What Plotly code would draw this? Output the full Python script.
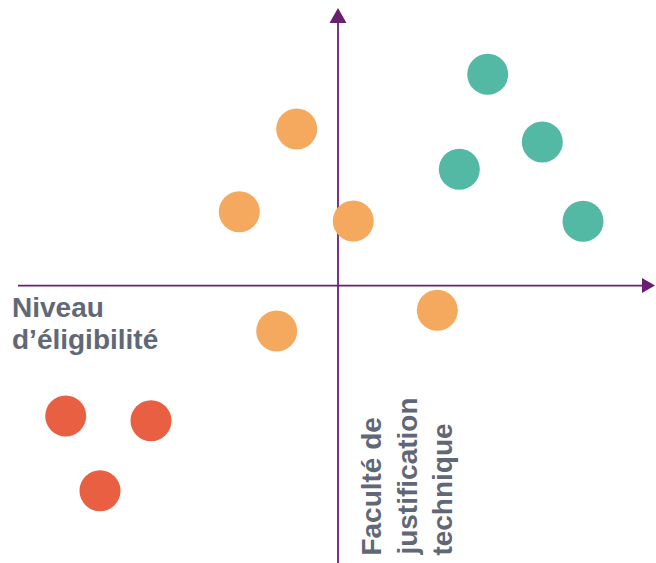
import plotly.graph_objects as go

# Data (arbitrary units, origin at the axes crossing)
teal_x = [14.97, 20.43, 12.13, 24.50]
teal_y = [21.13, 14.36, 11.63, 6.43]
orange_x = [-4.13, -9.87, 1.53, -6.13, 9.93]
orange_y = [15.66, 7.39, 6.46, -4.54, -2.47]
red_x = [-27.23, -18.70, -23.80]
red_y = [-13.04, -13.51, -20.51]

x_label_lines = ["Niveau", "d\u2019éligibilité"]
y_label_lines = ["Faculté de", "justification", "technique"]

TEAL = "#53B9A4"
ORANGE = "#F5A95E"
RED = "#E95F41"
PURPLE = "#6B1F73"
TEXT = "#606877"
FONT = "Liberation Sans, Arial, sans-serif"

XR = [-33.8, 31.8]
YR = [-27.74, 28.56]

fig = go.Figure()
for xs, ys, col in [(teal_x, teal_y, TEAL), (orange_x, orange_y, ORANGE), (red_x, red_y, RED)]:
    fig.add_trace(go.Scatter(x=xs, y=ys, mode="markers",
                             marker=dict(size=41, color=col, line=dict(width=0)),
                             hoverinfo="skip", showlegend=False))

# axes with arrows
fig.add_shape(type="line", x0=-32.0, x1=30.6, y0=0, y1=0,
              line=dict(color=PURPLE, width=1.8), layer="below")
fig.add_shape(type="path", path="M 30.4 -0.75 L 31.7 0 L 30.4 0.75 Z",
              fillcolor=PURPLE, line=dict(width=0))
fig.add_shape(type="line", x0=0, x1=0, y0=YR[0], y1=26.4,
              line=dict(color=PURPLE, width=1.8), layer="below")
fig.add_shape(type="path", path="M -0.85 26.26 L 0 27.76 L 0.85 26.26 Z",
              fillcolor=PURPLE, line=dict(width=0))

# labels
for txt, yy in zip(x_label_lines, [-2.14, -5.34]):
    fig.add_annotation(x=-32.8, y=yy, xref="x", yref="y", text="<b>%s</b>" % txt, showarrow=False,
                       xanchor="left", yanchor="middle",
                       font=dict(family=FONT, size=28, color=TEXT))
for txt, xx in zip(y_label_lines, [3.4, 7.0, 10.5]):
    fig.add_annotation(x=xx, y=-27.2, xref="x", yref="y", text="<b>%s</b>" % txt, showarrow=False,
                       textangle=-90, xanchor="center", yanchor="bottom",
                       font=dict(family=FONT, size=28, color=TEXT))

fig.update_layout(
    width=656, height=563,
    margin=dict(l=0, r=0, t=0, b=0),
    paper_bgcolor="white", plot_bgcolor="white",
    xaxis=dict(range=XR, visible=False, fixedrange=True),
    yaxis=dict(range=YR, visible=False, fixedrange=True),
)
fig.write_html("out.html", config={"displayModeBar": False, "staticPlot": True},
               post_script="document.body.style.margin='0';")
